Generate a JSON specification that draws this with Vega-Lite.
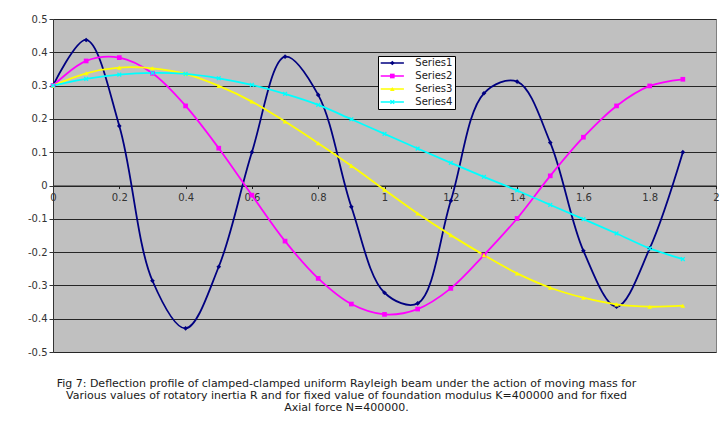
{
  "$schema": "https://vega.github.io/schema/vega-lite/v6.json",
  "width": 663,
  "height": 333,
  "autosize": {"type": "none"},
  "padding": {"left": 53, "top": 19, "right": 12, "bottom": 74},
  "background": "white",
  "config": {
    "view": {"fill": "#c0c0c0", "stroke": "#808080", "strokeWidth": 1},
    "font": "DejaVu Sans"
  },
  "title": {
    "text": [
      "Fig 7: Deflection profile of clamped-clamped  uniform Rayleigh beam  under the action of moving mass for",
      "Various values  of rotatory inertia R and  for fixed value  of foundation modulus K=400000  and  for fixed",
      "Axial force N=400000."
    ],
    "orient": "bottom",
    "anchor": "middle",
    "dx": -38,
    "offset": 21,
    "font": "DejaVu Sans",
    "fontSize": 11,
    "fontWeight": "normal",
    "color": "#1a1a1a",
    "lineHeight": 12
  },
  "data": {
    "values": [
      {"series": "Series1", "x": 0, "y": 0.3},
      {"series": "Series1", "x": 0.1, "y": 0.437},
      {"series": "Series1", "x": 0.2, "y": 0.179},
      {"series": "Series1", "x": 0.3, "y": -0.286},
      {"series": "Series1", "x": 0.4, "y": -0.429},
      {"series": "Series1", "x": 0.5, "y": -0.244},
      {"series": "Series1", "x": 0.6, "y": 0.1},
      {"series": "Series1", "x": 0.7, "y": 0.387},
      {"series": "Series1", "x": 0.8, "y": 0.272},
      {"series": "Series1", "x": 0.9, "y": -0.064},
      {"series": "Series1", "x": 1.0, "y": -0.322},
      {"series": "Series1", "x": 1.1, "y": -0.354},
      {"series": "Series1", "x": 1.2, "y": -0.046},
      {"series": "Series1", "x": 1.3, "y": 0.277},
      {"series": "Series1", "x": 1.4, "y": 0.312},
      {"series": "Series1", "x": 1.5, "y": 0.129},
      {"series": "Series1", "x": 1.6, "y": -0.196},
      {"series": "Series1", "x": 1.7, "y": -0.364},
      {"series": "Series1", "x": 1.8, "y": -0.189},
      {"series": "Series1", "x": 1.9, "y": 0.1},
      {"series": "Series2", "x": 0, "y": 0.3},
      {"series": "Series2", "x": 0.1, "y": 0.374},
      {"series": "Series2", "x": 0.2, "y": 0.384},
      {"series": "Series2", "x": 0.3, "y": 0.337},
      {"series": "Series2", "x": 0.4, "y": 0.239},
      {"series": "Series2", "x": 0.5, "y": 0.112},
      {"series": "Series2", "x": 0.6, "y": -0.029},
      {"series": "Series2", "x": 0.7, "y": -0.167},
      {"series": "Series2", "x": 0.8, "y": -0.279},
      {"series": "Series2", "x": 0.9, "y": -0.356},
      {"series": "Series2", "x": 1.0, "y": -0.387},
      {"series": "Series2", "x": 1.1, "y": -0.371},
      {"series": "Series2", "x": 1.2, "y": -0.309},
      {"series": "Series2", "x": 1.3, "y": -0.209},
      {"series": "Series2", "x": 1.4, "y": -0.099},
      {"series": "Series2", "x": 1.5, "y": 0.029},
      {"series": "Series2", "x": 1.6, "y": 0.145},
      {"series": "Series2", "x": 1.7, "y": 0.239},
      {"series": "Series2", "x": 1.8, "y": 0.299},
      {"series": "Series2", "x": 1.9, "y": 0.319},
      {"series": "Series3", "x": 0, "y": 0.3},
      {"series": "Series3", "x": 0.1, "y": 0.337},
      {"series": "Series3", "x": 0.2, "y": 0.354},
      {"series": "Series3", "x": 0.3, "y": 0.352},
      {"series": "Series3", "x": 0.4, "y": 0.335},
      {"series": "Series3", "x": 0.5, "y": 0.299},
      {"series": "Series3", "x": 0.6, "y": 0.252},
      {"series": "Series3", "x": 0.7, "y": 0.192},
      {"series": "Series3", "x": 0.8, "y": 0.127},
      {"series": "Series3", "x": 0.9, "y": 0.059},
      {"series": "Series3", "x": 1.0, "y": -0.013},
      {"series": "Series3", "x": 1.1, "y": -0.084},
      {"series": "Series3", "x": 1.2, "y": -0.149},
      {"series": "Series3", "x": 1.3, "y": -0.209},
      {"series": "Series3", "x": 1.4, "y": -0.264},
      {"series": "Series3", "x": 1.5, "y": -0.307},
      {"series": "Series3", "x": 1.6, "y": -0.337},
      {"series": "Series3", "x": 1.7, "y": -0.357},
      {"series": "Series3", "x": 1.8, "y": -0.364},
      {"series": "Series3", "x": 1.9, "y": -0.361},
      {"series": "Series4", "x": 0, "y": 0.3},
      {"series": "Series4", "x": 0.1, "y": 0.32},
      {"series": "Series4", "x": 0.2, "y": 0.333},
      {"series": "Series4", "x": 0.3, "y": 0.338},
      {"series": "Series4", "x": 0.4, "y": 0.335},
      {"series": "Series4", "x": 0.5, "y": 0.322},
      {"series": "Series4", "x": 0.6, "y": 0.302},
      {"series": "Series4", "x": 0.7, "y": 0.275},
      {"series": "Series4", "x": 0.8, "y": 0.242},
      {"series": "Series4", "x": 0.9, "y": 0.199},
      {"series": "Series4", "x": 1.0, "y": 0.155},
      {"series": "Series4", "x": 1.1, "y": 0.111},
      {"series": "Series4", "x": 1.2, "y": 0.068},
      {"series": "Series4", "x": 1.3, "y": 0.026},
      {"series": "Series4", "x": 1.4, "y": -0.015},
      {"series": "Series4", "x": 1.5, "y": -0.058},
      {"series": "Series4", "x": 1.6, "y": -0.101},
      {"series": "Series4", "x": 1.7, "y": -0.144},
      {"series": "Series4", "x": 1.8, "y": -0.189},
      {"series": "Series4", "x": 1.9, "y": -0.221}
    ]
  },
  "encoding": {
    "x": {
      "field": "x",
      "type": "quantitative",
      "scale": {"domain": [0, 2], "nice": false, "zero": false},
      "axis": {
        "orient": "bottom",
        "offset": -166.5,
        "title": null,
        "values": [0, 0.2, 0.4, 0.6, 0.8, 1, 1.2, 1.4, 1.6, 1.8, 2],
        "format": ".1~f",
        "grid": false,
        "tickSize": 3,
        "tickColor": "#222222",
        "domainColor": "#222222",
        "labelFont": "DejaVu Sans",
        "labelFontSize": 10,
        "labelColor": "#333333",
        "labelPadding": 4,
        "labelFlush": false,
        "labelOverlap": false
      }
    },
    "y": {
      "field": "y",
      "type": "quantitative",
      "scale": {"domain": [-0.5, 0.5], "nice": false},
      "axis": {
        "title": null,
        "values": [-0.5, -0.4, -0.3, -0.2, -0.1, 0, 0.1, 0.2, 0.3, 0.4, 0.5],
        "labelExpr": "replace(format(datum.value, '.1~f'), '\u2212', '-')",
        "grid": true,
        "gridColor": "#262626",
        "gridWidth": 1.2,
        "tickSize": 4,
        "tickColor": "#333333",
        "domainColor": "#333333",
        "labelFont": "DejaVu Sans",
        "labelFontSize": 10,
        "labelColor": "#333333",
        "labelPadding": 2,
        "labelOverlap": false
      }
    }
  },
  "layer": [
    {
      "mark": {"type": "line", "interpolate": "catmull-rom", "strokeWidth": 1.8},
      "encoding": {
        "stroke": {
          "field": "series",
          "type": "nominal",
          "scale": {
            "domain": ["Series1", "Series2", "Series3", "Series4"],
            "range": ["#000080", "#ff00ff", "#ffff00", "#00ffff"]
          },
          "legend": {
            "orient": "none",
            "legendX": 325,
            "legendY": 37,
            "title": null,
            "symbolType": "M-2.9,0H2.9",
            "symbolSize": 64,
            "symbolStrokeWidth": 1.5,
            "symbolOffset": 7.3,
            "labelOffset": 18,
            "labelFont": "DejaVu Sans",
            "labelFontSize": 10,
            "labelColor": "#222222",
            "padding": 2,
            "rowPadding": 3,
            "fillColor": "white",
            "strokeColor": "black"
          }
        }
      }
    },
    {
      "mark": {"type": "point", "filled": true, "size": 22, "opacity": 1},
      "encoding": {
        "color": {
          "field": "series",
          "type": "nominal",
          "scale": {"range": ["#000080", "#ff00ff", "#ffff00", "#00ffff"]},
          "legend": {
            "orient": "none",
            "legendX": 325,
            "legendY": 37,
            "title": null,
            "symbolSize": 22,
            "symbolOffset": 7.3,
            "labelOffset": 18,
            "labelFont": "DejaVu Sans",
            "labelFontSize": 10,
            "labelOpacity": 0,
            "padding": 2,
            "rowPadding": 3
          }
        },
        "shape": {
          "field": "series",
          "type": "nominal",
          "scale": {"range": ["diamond", "square", "triangle-up", "M-1,-0.6L-0.6,-1L0,-0.4L0.6,-1L1,-0.6L0.4,0L1,0.6L0.6,1L0,0.4L-0.6,1L-1,0.6L-0.4,0Z"]},
          "legend": {
            "orient": "none",
            "legendX": 325,
            "legendY": 37,
            "title": null,
            "symbolSize": 22,
            "symbolOffset": 7.3,
            "labelOffset": 18,
            "labelFont": "DejaVu Sans",
            "labelFontSize": 10,
            "labelOpacity": 0,
            "padding": 2,
            "rowPadding": 3
          }
        }
      }
    }
  ]
}
